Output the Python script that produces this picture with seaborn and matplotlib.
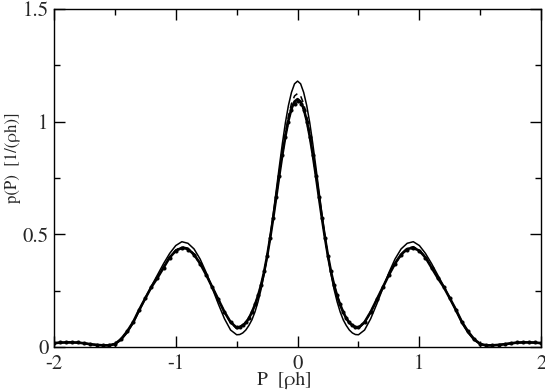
import matplotlib
matplotlib.use("Agg")
import matplotlib.pyplot as plt
import numpy as np
import pandas as pd
import seaborn as sns
from matplotlib.ticker import MultipleLocator

# P >= 0 sample points: finer across the central peak
p_half = np.round(np.concatenate([np.arange(0, 0.5001, 0.025),
                                  np.arange(0.55, 2.0001, 0.05)]), 3)

# p(P) for P >= 0 (curves are symmetric)
half_thin = [1.18, 1.168, 1.13, 1.072, 0.995, 0.902, 0.80, 0.695, 0.59, 0.49,
             0.40, 0.322, 0.255, 0.20, 0.155, 0.12, 0.095, 0.075, 0.062, 0.055,
             0.054,
             0.075, 0.125, 0.19, 0.26, 0.33, 0.39, 0.435, 0.46, 0.467, 0.45,
             0.415, 0.37, 0.32, 0.27, 0.215, 0.16, 0.105, 0.062, 0.03, 0.011,
             0.006, 0.007, 0.009, 0.012, 0.016, 0.019, 0.02, 0.02, 0.019, 0.017]
half_dash = [1.125, 1.114, 1.08, 1.025, 0.95, 0.865, 0.77, 0.672, 0.575, 0.485,
             0.40, 0.33, 0.272, 0.225, 0.186, 0.153, 0.126, 0.106, 0.094, 0.085,
             0.081,
             0.108, 0.153, 0.208, 0.265, 0.322, 0.372, 0.413, 0.438, 0.445, 0.43,
             0.40, 0.355, 0.31, 0.268, 0.218, 0.166, 0.11, 0.067, 0.033, 0.013,
             0.007, 0.007, 0.009, 0.012, 0.016, 0.019, 0.02, 0.02, 0.019, 0.017]
half_solid = [1.10, 1.089, 1.058, 1.005, 0.935, 0.853, 0.762, 0.666, 0.572, 0.484,
              0.403, 0.332, 0.274, 0.226, 0.187, 0.154, 0.127, 0.107, 0.096, 0.088,
              0.085,
              0.11, 0.155, 0.21, 0.265, 0.32, 0.37, 0.41, 0.435, 0.44, 0.427,
              0.397, 0.352, 0.307, 0.266, 0.216, 0.165, 0.11, 0.068, 0.034, 0.013,
              0.007, 0.007, 0.009, 0.012, 0.016, 0.019, 0.02, 0.02, 0.019, 0.017]
half_dot = [1.09, 1.08, 1.05, 0.998, 0.93, 0.85, 0.76, 0.665, 0.572, 0.485,
            0.405, 0.335, 0.277, 0.229, 0.19, 0.157, 0.13, 0.11, 0.098, 0.09,
            0.087,
            0.112, 0.157, 0.212, 0.266, 0.32, 0.368, 0.407, 0.432, 0.437, 0.425,
            0.396, 0.352, 0.307, 0.266, 0.217, 0.166, 0.111, 0.069, 0.035, 0.014,
            0.008, 0.008, 0.01, 0.013, 0.017, 0.02, 0.021, 0.021, 0.02, 0.018]


def mirror(half, sign=1):
    half = list(half)
    return [sign * v for v in half[:0:-1]] + half


p_full = mirror(p_half, sign=-1)
curves = {"thin": half_thin, "dash": half_dash, "solid": half_solid, "dot": half_dot}
df = pd.concat([pd.DataFrame({"P": p_full, "pP": mirror(v), "set": k})
                for k, v in curves.items()], ignore_index=True)

sns.set_theme(style="ticks")
plt.rcParams["font.family"] = ["TeX Gyre Termes", "Liberation Serif", "DejaVu Serif"]

fig = plt.figure(figsize=(5.45, 3.92), dpi=100)
ax = fig.add_axes([0.099, 0.115, 0.894, 0.862])

styles = {"thin": dict(lw=1.1, ls="-"),
          "dash": dict(lw=1.1, ls=(0, (4, 3))),
          "solid": dict(lw=1.9, ls="-"),
          "dot": dict(lw=1.0, ls=":", marker="o", markersize=2.2,
                      mfc="black", mec="black")}
for name, st in styles.items():
    sns.lineplot(data=df[df["set"] == name], x="P", y="pP", ax=ax,
                 color="black", legend=False, estimator=None, sort=False, **st)

ax.set_xlim(-2, 2)
ax.set_ylim(0, 1.5)
ax.xaxis.set_major_locator(MultipleLocator(1))
ax.xaxis.set_minor_locator(MultipleLocator(0.5))
ax.yaxis.set_major_locator(MultipleLocator(0.5))
ax.yaxis.set_minor_locator(MultipleLocator(0.25))
ax.xaxis.set_major_formatter(plt.FuncFormatter(lambda v, _: f"{v:g}"))
ax.yaxis.set_major_formatter(plt.FuncFormatter(lambda v, _: f"{v:g}"))
ax.tick_params(which="both", direction="in", top=True, right=True,
               labelsize=15, color="black", width=1)
ax.tick_params(which="major", length=8)
ax.tick_params(which="minor", length=4)
ax.tick_params(axis="x", pad=5)
ax.tick_params(axis="y", pad=4)
for sp in ax.spines.values():
    sp.set_linewidth(1.0)
    sp.set_color("black")

ax.set_xlabel("P  [ρh]", fontsize=14)
ax.xaxis.set_label_coords(0.473, -0.074)
ax.xaxis.label.set_va("top")
ax.set_ylabel("p(P)  [1/(ρh)]", fontsize=12)
ax.yaxis.set_label_coords(-0.068, 0.56)

fig.savefig("out.png", dpi=100)
